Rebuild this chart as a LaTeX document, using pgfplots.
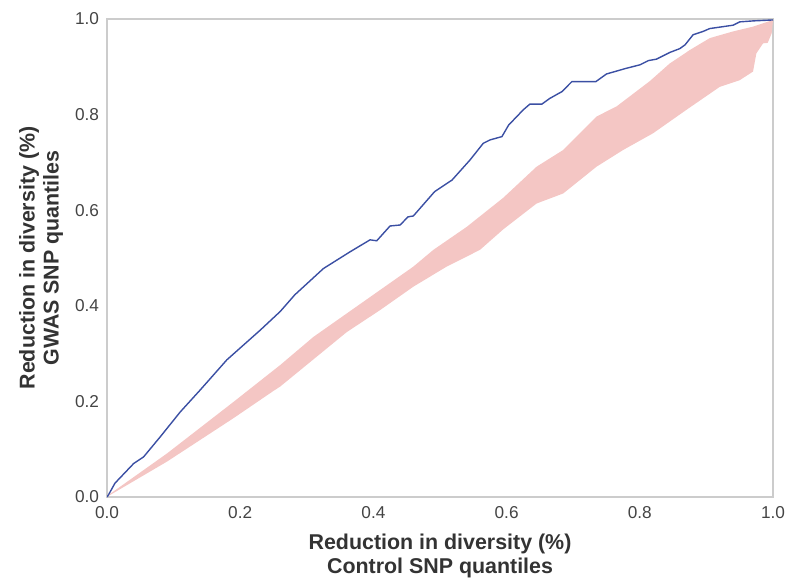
\documentclass[border=0pt]{standalone}
\usepackage{fontspec}
\setmainfont{Liberation Sans}
\usepackage{pgfplots}
\pgfplotsset{compat=1.18}
\usepgfplotslibrary{fillbetween}

\definecolor{qqblue}{HTML}{3B4FA3}
\definecolor{bandpink}{HTML}{F4C6C4}
\definecolor{axgray}{HTML}{CCCCCC}
\definecolor{ticktxt}{HTML}{444444}
\definecolor{labtxt}{HTML}{333333}

\begin{document}
\begin{tikzpicture}
\begin{axis}[
  scale only axis, width=333pt, height=239pt,
  xmin=0, xmax=1, ymin=0, ymax=1,
  xtick={0,0.2,...,1.0}, ytick={0,0.2,...,1.0},
  major tick length=0pt,
  axis line style={axgray, line width=0.6pt},
  tick label style={font=\fontsize{8.6}{9}\selectfont, text=ticktxt},
  /pgf/number format/assume math mode=true,
  /pgf/number format/.cd, fixed, fixed zerofill, precision=1, /pgfplots/.cd,
  xticklabel style={yshift=-1pt},
  yticklabel style={xshift=-0.5pt},
  xlabel={Reduction in diversity (\%)\\Control SNP quantiles},
  ylabel={Reduction in diversity (\%)\\GWAS SNP quantiles},
  label style={font=\fontsize{10.7}{12}\selectfont\bfseries, text=labtxt, align=center},
  xlabel style={at={(axis description cs:0.5,-0.124)}, anchor=center},
  ylabel style={at={(axis description cs:-0.099,0.5)}, anchor=center},
]
\addplot[name path=up, draw=none] coordinates {
(0,0) (0.002,0.004) (0.090,0.091) (0.190,0.199) (0.250,0.265) (0.260,0.276)
(0.310,0.335) (0.360,0.384) (0.410,0.433) (0.460,0.482) (0.490,0.517)
(0.540,0.565) (0.595,0.626) (0.645,0.691) (0.685,0.726) (0.735,0.796)
(0.765,0.817) (0.815,0.870) (0.845,0.907) (0.875,0.935) (0.905,0.960)
(0.940,0.974) (0.970,0.984) (1.0,0.998)};
\addplot[name path=lo, draw=none] coordinates {
(0,0) (0.002,0.002) (0.090,0.074) (0.190,0.165) (0.250,0.222) (0.260,0.231)
(0.310,0.288) (0.360,0.345) (0.410,0.391) (0.460,0.440) (0.510,0.482)
(0.560,0.517) (0.595,0.560) (0.645,0.614) (0.685,0.635) (0.735,0.691)
(0.775,0.726) (0.820,0.761) (0.870,0.810) (0.920,0.858) (0.950,0.872)
(0.970,0.890) (0.975,0.928) (0.985,0.949) (0.992,0.950) (0.998,0.970) (1.0,0.998)};
\addplot[bandpink, draw=none] fill between[of=up and lo];
\addplot[qqblue, line width=0.7pt] coordinates {
(0,0) (0.002,0.004) (0.012,0.029) (0.040,0.070) (0.055,0.084) (0.080,0.126)
(0.110,0.178) (0.140,0.224) (0.180,0.287) (0.230,0.349) (0.260,0.388)
(0.282,0.423) (0.325,0.478) (0.365,0.513) (0.395,0.538) (0.405,0.536)
(0.425,0.567) (0.440,0.569) (0.452,0.586) (0.460,0.588) (0.492,0.639)
(0.518,0.663) (0.545,0.705) (0.565,0.740) (0.575,0.747) (0.593,0.754)
(0.603,0.778) (0.625,0.810) (0.635,0.822) (0.653,0.822) (0.665,0.834)
(0.683,0.848) (0.698,0.869) (0.734,0.869) (0.750,0.885) (0.780,0.897)
(0.800,0.904) (0.813,0.913) (0.825,0.916) (0.845,0.930) (0.860,0.938)
(0.868,0.946) (0.880,0.967) (0.895,0.974) (0.905,0.980) (0.940,0.987)
(0.950,0.994) (0.970,0.996) (1.0,0.998)};
\end{axis}
\pgfresetboundingbox
\path (current axis.south west) +(-53.5pt,-43pt);
\path (current axis.north east) +(13.5pt,9.5pt);
\end{tikzpicture}
\end{document}
